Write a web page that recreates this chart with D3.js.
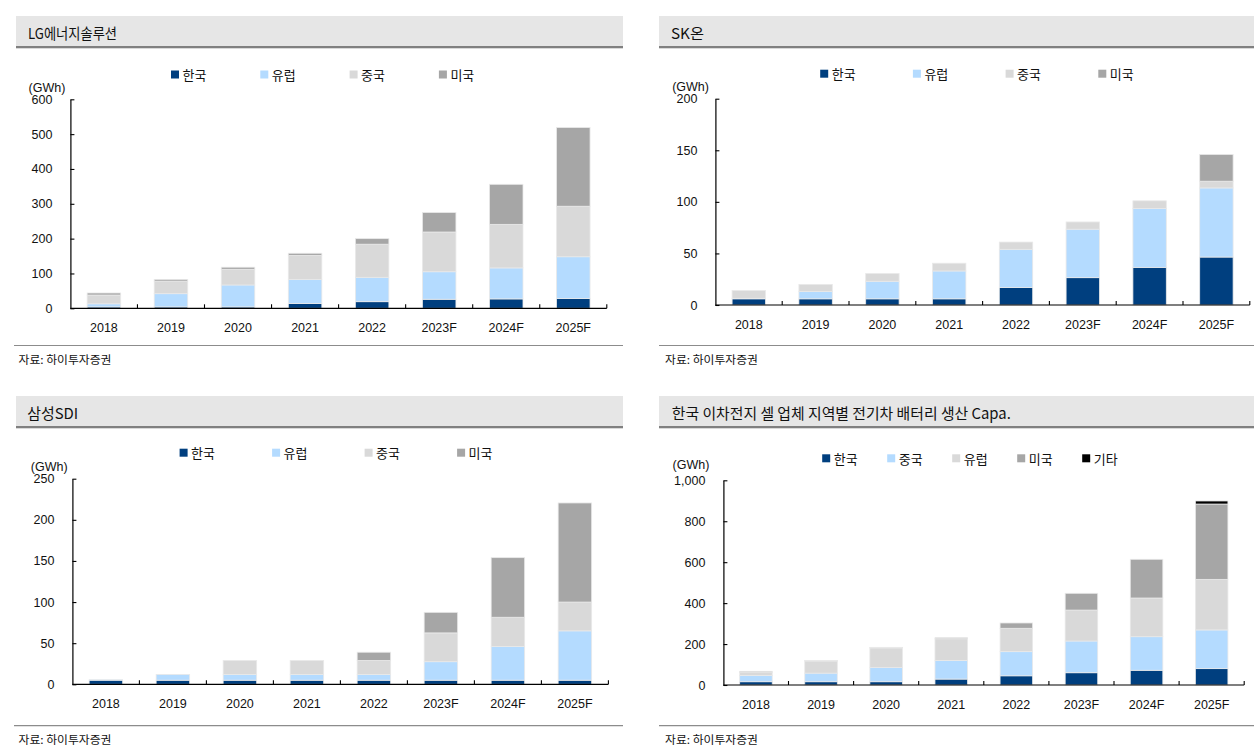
<!DOCTYPE html>
<html>
<head>
<meta charset="utf-8">
<script src="https://cdn.jsdelivr.net/npm/d3@7"></script>
<style>
  html, body { margin: 0; padding: 0; background: #ffffff; }
  svg { display: block; }
</style>
</head>
<body>
<svg id="chart" width="1254" height="752"></svg>
<script>
// ---------------- data ----------------
const years = ["2018", "2019", "2020", "2021", "2022", "2023F", "2024F", "2025F"];

// LG에너지솔루션 (GWh)
const lgKorea  = [4, 4, 4, 14, 19, 26, 27, 28];
const lgEurope = [9, 38, 63, 69, 70, 79, 89, 120];
const lgChina  = [25, 36, 45, 69, 95, 114, 125, 145];
const lgUS     = [6, 5, 6, 6, 16, 56, 115, 226];

// SK온 (GWh)
const skKorea  = [6, 6, 6, 6, 17, 26.5, 36.5, 46.5];
const skEurope = [0.5, 7, 17, 27, 37, 47, 57, 67];
const skChina  = [7.5, 7, 7.5, 7.5, 7, 7, 7.5, 6.5];
const skUS     = [0, 0, 0, 0, 0, 0, 0, 26];

// 삼성SDI (GWh)
const sdiKorea  = [5, 5, 5, 5, 5, 5, 5, 5];
const sdiEurope = [0.5, 7, 7, 7, 7, 22.5, 41, 60];
const sdiChina  = [0, 0, 17, 17, 17, 35, 35.5, 35];
const sdiUS     = [0, 0, 0, 0, 10, 25, 72.5, 120.5];

// 한국 이차전지 셀 업체 합계 (GWh)
const krKorea  = [16, 16, 16, 29, 45, 60, 72, 80];
const krChina  = [31, 42, 70, 91, 118, 155, 164, 189];
const krEurope = [15, 59, 95, 106, 114, 151, 189, 247];
const krUS     = [5, 3, 3, 5, 26, 82, 189, 368];
const krOther  = [0, 0, 0, 0, 0, 0, 0, 15];

const ticksLG  = [0, 100, 200, 300, 400, 500, 600];
const ticksSK  = [0, 50, 100, 150, 200];
const ticksSDI = [0, 50, 100, 150, 200, 250];
const ticksKR  = [0, 200, 400, 600, 800, 1000];

const unitLabel = "(GWh)";
const sourceLabel = "자료: 하이투자증권";

// ---------------- styles ----------------
const C1 = "#003f7f", C2 = "#b4dbff", C3 = "#d9d9d9", C4 = "#a6a6a6", C5 = "#000000";
const FONT = "'Liberation Sans', 'Noto Sans CJK KR', sans-serif";
const KFONT = "'Noto Sans CJK KR', 'Liberation Sans', sans-serif";

const panels = [
  {
    title: "LG에너지솔루션", titleLen: 89,
    header: {x: 16, y: 16, w: 607},
    titleX: 28,
    axisX: 70.4, axisRight: 606.8, y0: 308.3, yTop: 99.3, yMax: 600, ticks: ticksLG, fmt: d3.format("d"),
    gwh: {x: 47, y: 87.7},
    legend: {x: 171, y: 74.5, step: 89.3},
    footer: {y: 345.5, x1: 14, x2: 623, tx: 18.5, ty: 359},
    series: [["한국", lgKorea, C1], ["유럽", lgEurope, C2], ["중국", lgChina, C3], ["미국", lgUS, C4]]
  },
  {
    title: "SK온", titleLen: 33,
    header: {x: 659, y: 16, w: 595},
    titleX: 671,
    axisX: 715.4, axisRight: 1249.8, y0: 305, yTop: 98.7, yMax: 200, ticks: ticksSK, fmt: d3.format("d"),
    gwh: {x: 690.6, y: 86.7},
    legend: {x: 820.2, y: 73.7, step: 92.7},
    footer: {y: 345.5, x1: 659, x2: 1254, tx: 665, ty: 359},
    series: [["한국", skKorea, C1], ["유럽", skEurope, C2], ["중국", skChina, C3], ["미국", skUS, C4]]
  },
  {
    title: "삼성SDI", titleLen: 51,
    header: {x: 16, y: 396, w: 607},
    titleX: 27.2,
    axisX: 72.4, axisRight: 608.4, y0: 684.3, yTop: 478.7, yMax: 250, ticks: ticksSDI, fmt: d3.format("d"),
    gwh: {x: 49.2, y: 467.3},
    legend: {x: 179.6, y: 452.7, step: 92.5},
    footer: {y: 725.7, x1: 14, x2: 623, tx: 18.5, ty: 739},
    series: [["한국", sdiKorea, C1], ["유럽", sdiEurope, C2], ["중국", sdiChina, C3], ["미국", sdiUS, C4]]
  },
  {
    title: "한국 이차전지 셀 업체 지역별 전기차 배터리 생산 Capa.", titleLen: 339,
    header: {x: 659, y: 396, w: 595},
    titleX: 671.8,
    axisX: 723.4, axisRight: 1244.2, y0: 685, yTop: 480.3, yMax: 1000, ticks: ticksKR, fmt: d3.format(","),
    gwh: {x: 691, y: 465},
    legend: {x: 822.2, y: 458.3, step: 65},
    footer: {y: 725.7, x1: 659, x2: 1254, tx: 665, ty: 739},
    series: [["한국", krKorea, C1], ["중국", krChina, C2], ["유럽", krEurope, C3], ["미국", krUS, C4], ["기타", krOther, C5]]
  }
];

const svg = d3.select("#chart");

function drawPanel(p) {
  const g = svg.append("g");

  // header band
  g.append("rect").attr("x", p.header.x).attr("y", p.header.y)
    .attr("width", p.header.w).attr("height", 30).attr("fill", "#e6e6e6");
  g.append("rect").attr("x", p.header.x).attr("y", p.header.y + 30)
    .attr("width", p.header.w).attr("height", 2.3).attr("fill", "#808080");
  g.append("text").attr("x", p.titleX).attr("y", p.header.y + 16.5)
    .attr("dominant-baseline", "central")
    .attr("font-family", KFONT).attr("font-size", 15).attr("fill", "#111")
    .attr("textLength", p.titleLen).attr("lengthAdjust", "spacingAndGlyphs")
    .text(p.title);

  // data table
  const keys = p.series.map(s => s[0]);
  const table = years.map((yr, i) => {
    const row = {year: yr};
    p.series.forEach(s => { row[s[0]] = s[1][i]; });
    return row;
  });
  const stacked = d3.stack().keys(keys)(table);
  const colors = d3.scaleOrdinal().domain(keys).range(p.series.map(s => s[2]));

  const x = d3.scaleBand().domain(years).range([p.axisX, p.axisRight])
    .paddingInner(0.5).paddingOuter(0.25);
  const y = d3.scaleLinear().domain([0, p.yMax]).range([p.y0, p.yTop]);

  // bars
  g.append("g").selectAll("g").data(stacked).join("g")
    .attr("fill", d => colors(d.key))
    .selectAll("rect").data(d => d).join("rect")
    .attr("x", d => x(d.data.year))
    .attr("width", x.bandwidth())
    .attr("y", d => y(d[1]))
    .attr("height", d => Math.max(0, y(d[0]) - y(d[1])))
    .attr("stroke", "#e9e9e9").attr("stroke-width", 0.8);

  // y axis
  const yAxis = d3.axisLeft(y).tickValues(p.ticks).tickFormat(p.fmt)
    .tickSizeInner(-4).tickSizeOuter(0).tickPadding(18);
  const ya = g.append("g").attr("transform", `translate(${p.axisX},0)`).call(yAxis);
  ya.select(".domain").attr("stroke", "#000").attr("stroke-width", 1.2);
  ya.selectAll(".tick line").attr("stroke", "#000").attr("stroke-width", 1.1);
  ya.selectAll("text").attr("font-family", FONT).attr("font-size", 12.5).attr("fill", "#111");

  // x axis (labels)
  const xAxis = d3.axisBottom(x).tickSize(0).tickPadding(15);
  const xa = g.append("g").attr("transform", `translate(0,${p.y0})`).call(xAxis);
  xa.select(".domain").attr("stroke", "#000").attr("stroke-width", 1.2)
    .attr("d", `M${p.axisX},0H${p.axisRight}`);
  xa.selectAll("text").attr("font-family", FONT).attr("font-size", 12.5).attr("fill", "#111");

  // category boundary ticks (pointing up)
  g.append("g").selectAll("line").data(years).join("line")
    .attr("x1", d => x(d) + x.bandwidth() + x.step() * 0.25)
    .attr("x2", d => x(d) + x.bandwidth() + x.step() * 0.25)
    .attr("y1", p.y0).attr("y2", p.y0 - 4)
    .attr("stroke", "#000").attr("stroke-width", 1.1);

  // unit label
  g.append("text").attr("x", p.gwh.x).attr("y", p.gwh.y)
    .attr("text-anchor", "middle").attr("dominant-baseline", "central")
    .attr("font-family", FONT).attr("font-size", 12.5).attr("fill", "#111")
    .text(unitLabel);

  // legend
  const lg = g.append("g").selectAll("g").data(p.series).join("g")
    .attr("transform", (d, i) => `translate(${p.legend.x + i * p.legend.step},${p.legend.y})`);
  lg.append("rect").attr("x", 0).attr("y", -4).attr("width", 8).attr("height", 8)
    .attr("fill", d => d[2]);
  lg.append("text").attr("x", 11.5).attr("y", 0).attr("dominant-baseline", "central")
    .attr("font-family", KFONT).attr("font-size", 13).attr("fill", "#111")
    .text(d => d[0]);

  // footer
  g.append("line").attr("x1", p.footer.x1).attr("x2", p.footer.x2)
    .attr("y1", p.footer.y).attr("y2", p.footer.y)
    .attr("stroke", "#8c8c8c").attr("stroke-width", 1.2);
  g.append("text").attr("x", p.footer.tx).attr("y", p.footer.ty)
    .attr("dominant-baseline", "central")
    .attr("font-family", KFONT).attr("font-size", 11).attr("fill", "#111")
    .attr("textLength", 93).attr("lengthAdjust", "spacingAndGlyphs")
    .text(sourceLabel);
}

panels.forEach(drawPanel);
</script>
</body>
</html>
